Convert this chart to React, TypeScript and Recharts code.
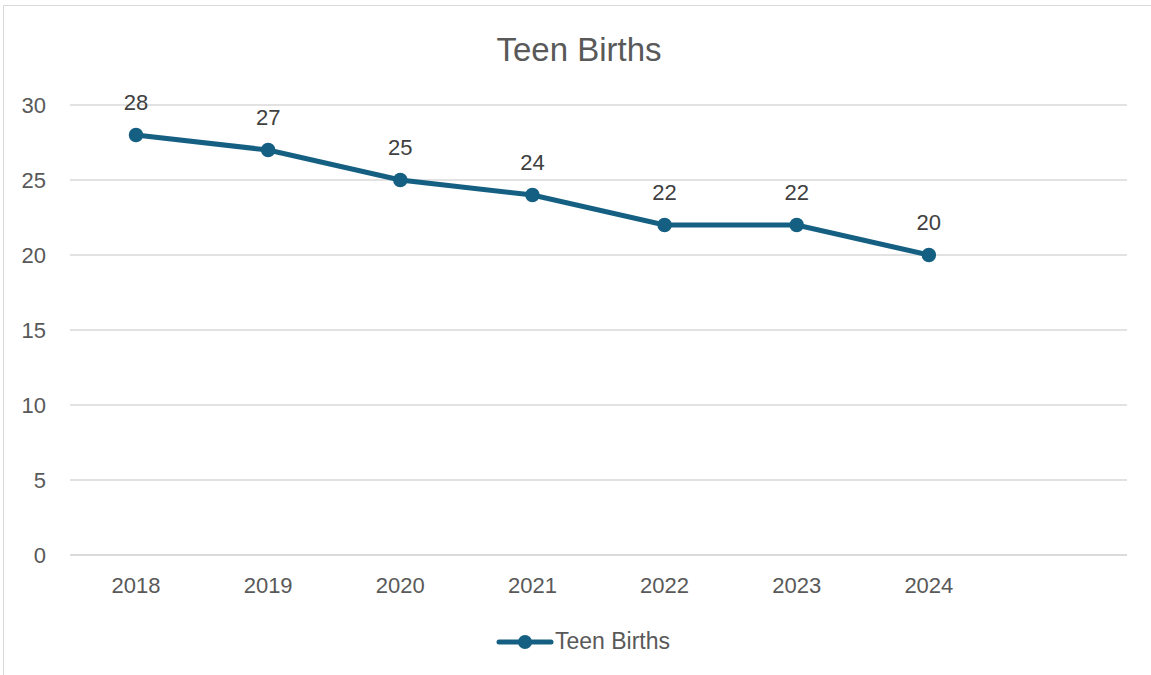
import React from "react";
import { LineChart, Line, XAxis, YAxis, CartesianGrid, LabelList, Legend } from "recharts";

const categories = ["2018", "2019", "2020", "2021", "2022", "2023", "2024", ""];
const teenBirths: (number | null)[] = [28, 27, 25, 24, 22, 22, 20, null];
const yTicks = [0, 5, 10, 15, 20, 25, 30];

const seriesName = "Teen Births";
const COLOR = "#156082";
const TEXT = "#595959";
const FONT = "'Liberation Sans', Arial, sans-serif";

const data = categories.map((c, i) => ({ year: c, value: teenBirths[i] }));

const LegendContent = () => (
  <div style={{ display: "flex", justifyContent: "center", alignItems: "center", fontFamily: FONT }}>
    <svg width={58} height={20} style={{ display: "block" }}>
      <line x1={3} y1={10} x2={55} y2={10} stroke={COLOR} strokeWidth={5} strokeLinecap="round" />
      <circle cx={29} cy={10} r={7} fill={COLOR} />
    </svg>
    <span style={{ fontSize: 23, color: TEXT, marginLeft: 1 }}>{seriesName}</span>
  </div>
);

export default function App() {
  return (
    <div style={{ position: "absolute", left: 0, top: 0, width: 1151, height: 675, background: "#fff", overflow: "hidden" }}>
      <div
        style={{
          position: "absolute",
          left: 3,
          top: 5,
          width: 1160,
          height: 700,
          borderLeft: "1.5px solid #d9d9d9",
          borderTop: "1.5px solid #d9d9d9",
          boxSizing: "border-box",
        }}
      />
      <div
        style={{
          position: "absolute",
          left: 0,
          width: 1158,
          top: 32,
          textAlign: "center",
          fontFamily: FONT,
          fontSize: 33,
          color: TEXT,
          lineHeight: "36px",
        }}
      >
        {seriesName}
      </div>
      <div style={{ position: "absolute", left: 0, top: 0 }}>
        <LineChart width={1151} height={675} data={data} margin={{ top: 105, right: 24, bottom: 33, left: 0 }}>
          <CartesianGrid horizontal vertical={false} stroke="#d9d9d9" strokeWidth={1.5} />
          <XAxis
            dataKey="year"
            padding={{ left: 66, right: 66 }}
            axisLine={{ stroke: "#d9d9d9", strokeWidth: 1.5 }}
            tickLine={false}
            tickSize={6}
            tickMargin={16}
            interval={0}
            tick={{ fill: TEXT, fontSize: 22, fontFamily: FONT }}
            height={60}
          />
          <YAxis
            domain={[0, 30]}
            ticks={yTicks}
            width={70}
            axisLine={false}
            tickLine={false}
            tickSize={6}
            tickMargin={18}
            tick={{ fill: TEXT, fontSize: 22, fontFamily: FONT }}
          />
          <Legend
            content={<LegendContent />}
            wrapperStyle={{ position: "absolute", left: 0, top: 628, width: 1166 }}
          />
          <Line
            type="linear"
            dataKey="value"
            name={seriesName}
            stroke={COLOR}
            strokeWidth={5}
            dot={{ r: 6.5, fill: COLOR, stroke: COLOR, strokeWidth: 1.5 }}
            activeDot={false}
            isAnimationActive={false}
          >
            <LabelList dataKey="value" position="top" offset={25} fill="#404040" fontSize={22} fontFamily={FONT} />
          </Line>
        </LineChart>
      </div>
    </div>
  );
}
